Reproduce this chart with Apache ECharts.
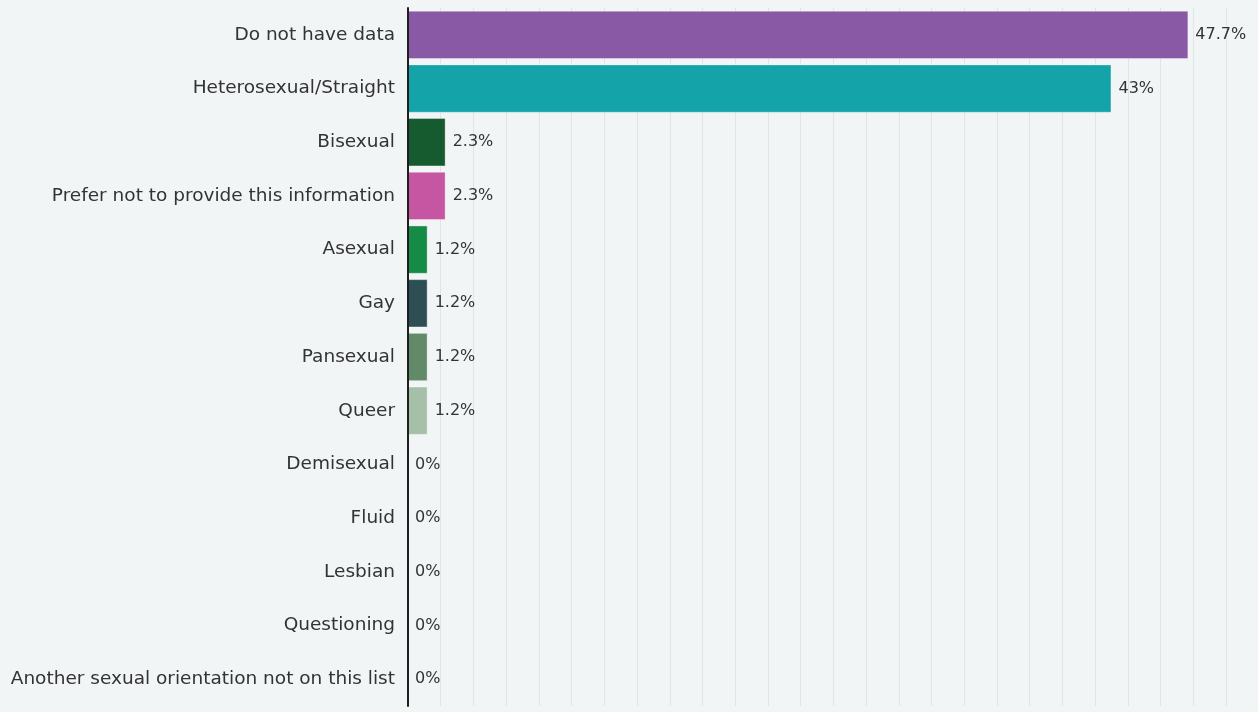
<!DOCTYPE html>
<html>
<head>
<meta charset="utf-8">
<script src="https://cdn.jsdelivr.net/npm/echarts@6/dist/echarts.min.js"></script>
<style>
  html, body { margin: 0; padding: 0; background: #f2f5f6; }
  #chart { width: 1258px; height: 712px; }
</style>
</head>
<body>
<div id="chart"></div>
<script>
// Sexual orientation breakdown (percent of respondents)
const categories = [
  'Do not have data',
  'Heterosexual/Straight',
  'Bisexual',
  'Prefer not to provide this information',
  'Asexual',
  'Gay',
  'Pansexual',
  'Queer',
  'Demisexual',
  'Fluid',
  'Lesbian',
  'Questioning',
  'Another sexual orientation not on this list'
];
const values = [47.7, 43, 2.3, 2.3, 1.2, 1.2, 1.2, 1.2, 0, 0, 0, 0, 0];
const barColors = [
  '#8a59a6', '#14a3a9', '#165a2f', '#c655a2', '#158b45', '#2d4f53',
  '#628968', '#a6bfa8', '#8a59a6', '#8a59a6', '#8a59a6', '#8a59a6', '#8a59a6'
];

const chart = echarts.init(document.getElementById('chart'));
chart.setOption({
  backgroundColor: '#f2f5f6',
  animation: false,
  grid: { left: 408, right: 32, top: 8, bottom: 6, containLabel: false },
  xAxis: {
    type: 'value',
    min: 0,
    max: 50,
    interval: 2,
    axisLabel: { show: false },
    axisLine: { show: false },
    axisTick: { show: false },
    splitLine: { show: true, lineStyle: { color: '#dfe4e7', width: 1 } }
  },
  yAxis: {
    type: 'category',
    inverse: true,
    z: 5,
    data: categories,
    axisLine: { show: true, onZero: false, lineStyle: { color: '#1e1e1e', width: 2 } },
    axisTick: { show: false },
    axisLabel: {
      margin: 13,
      color: '#333333',
      fontFamily: 'DejaVu Sans',
      fontSize: 18.5
    }
  },
  series: [{
    type: 'bar',
    data: values.map((v, i) => ({
      value: v,
      itemStyle: { color: barColors[i], borderWidth: v > 0 ? 1 : 0 }
    })),
    barCategoryGap: '10%',
    itemStyle: { borderColor: 'rgba(255,255,255,0.35)' },
    label: {
      show: true,
      position: 'right',
      distance: 7,
      color: '#333333',
      fontFamily: 'DejaVu Sans',
      fontSize: 16,
      formatter: p => p.value + '%'
    }
  }]
});
</script>
</body>
</html>
